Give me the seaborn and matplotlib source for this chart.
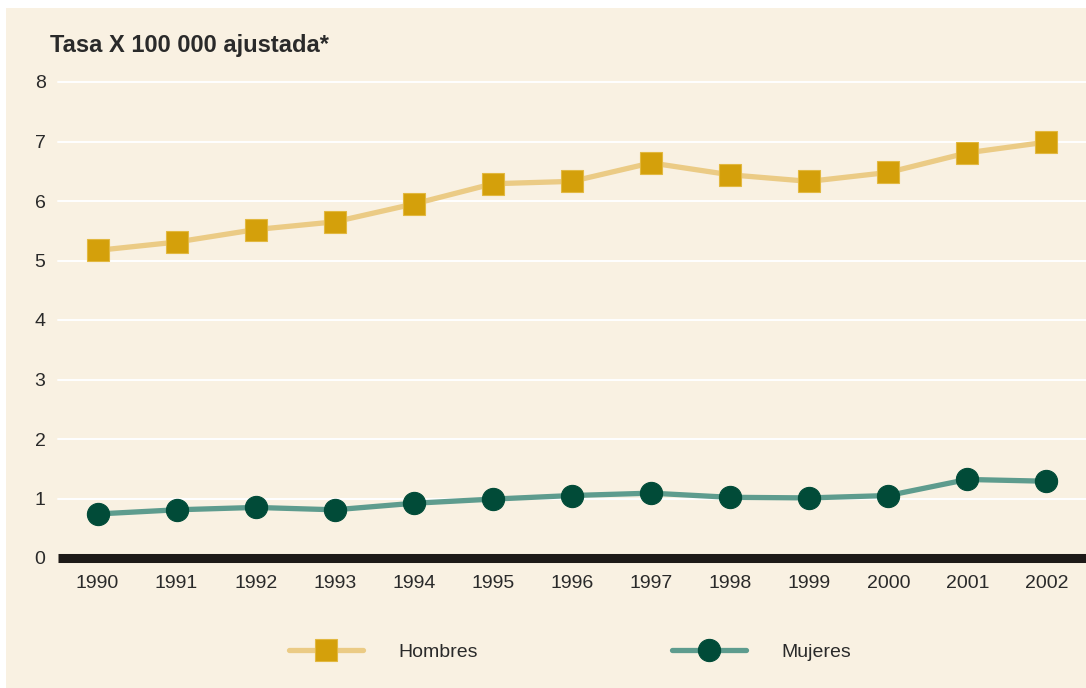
import numpy as np
import pandas as pd
import matplotlib
matplotlib.use("Agg")
import matplotlib.pyplot as plt
import matplotlib.patches as mpatches
import seaborn as sns

# datos ---------------------------------------------------------------
anios = [1990, 1991, 1992, 1993, 1994, 1995, 1996, 1997, 1998, 1999, 2000, 2001, 2002]
hombres = [5.17, 5.31, 5.52, 5.65, 5.95, 6.29, 6.33, 6.64, 6.44, 6.33, 6.48, 6.81, 6.99]
mujeres = [0.74, 0.81, 0.85, 0.81, 0.92, 0.99, 1.05, 1.09, 1.02, 1.01, 1.05, 1.32, 1.29]
yticks = [0, 1, 2, 3, 4, 5, 6, 7, 8]
titulo = "Tasa X 100 000 ajustada*"

df = pd.DataFrame({"anio": anios, "Hombres": hombres, "Mujeres": mujeres})

sns.set_style("white")
plt.rcParams["font.family"] = ["Liberation Sans", "DejaVu Sans"]

fondo = "#F9F1E2"
texto = "#2A2A2A"

fig = plt.figure(figsize=(10.86, 6.88), dpi=100)
fig.patch.set_facecolor("white")
fig.patches.append(mpatches.Rectangle((6 / 1086, 0), 1 - 6 / 1086, 1 - 8 / 688,
                                      transform=fig.transFigure, facecolor=fondo,
                                      edgecolor="none", zorder=-5))

ax = fig.add_axes([58 / 1086, 130 / 688, 1 - 58 / 1086, 476 / 688])
ax.set_facecolor(fondo)
ax.set_zorder(1)

# lineas de referencia
for v in yticks[1:]:
    ax.axhline(v, color="white", lw=1.4, zorder=1, clip_on=False)
ax.axhline(0, color="#1E1A18", lw=6.5, zorder=2, clip_on=False, solid_capstyle="butt")

sns.lineplot(data=df, x="anio", y="Hombres", ax=ax, color="#EBCB85", lw=3.8,
             marker="s", markersize=16, markerfacecolor="#D4A00B",
             markeredgecolor="#E2B840", markeredgewidth=0.8, label="Hombres", zorder=3)
sns.lineplot(data=df, x="anio", y="Mujeres", ax=ax, color="#5E9C8E", lw=3.8,
             marker="o", markersize=16, markerfacecolor="#014B38",
             markeredgecolor="#014B38", markeredgewidth=0.8, label="Mujeres", zorder=3)

ax.set_xlim(1989.5, 2002.5)
ax.set_ylim(0, 8)
ax.set_xticks(anios)
ax.set_xticklabels([str(a) for a in anios])
ax.set_yticks(yticks)
ax.tick_params(axis="both", length=0, labelsize=14, colors=texto)
ax.tick_params(axis="y", pad=9)
ax.tick_params(axis="x", pad=12)
ax.set_xlabel("")
ax.set_ylabel("")
for s in ax.spines.values():
    s.set_visible(False)

fig.text(50 / 1086, 1 - 34 / 688, titulo, fontsize=17, fontweight="bold",
         color=texto, ha="left", va="top")

ax.legend(loc="center", bbox_to_anchor=(570 / 1086, 1 - 652 / 688),
          bbox_transform=fig.transFigure, ncol=2, frameon=False,
          fontsize=14, handlelength=3.8, handletextpad=1.8,
          columnspacing=10, labelcolor=texto)

fig.savefig("out.png", dpi=100, facecolor=fig.get_facecolor())
